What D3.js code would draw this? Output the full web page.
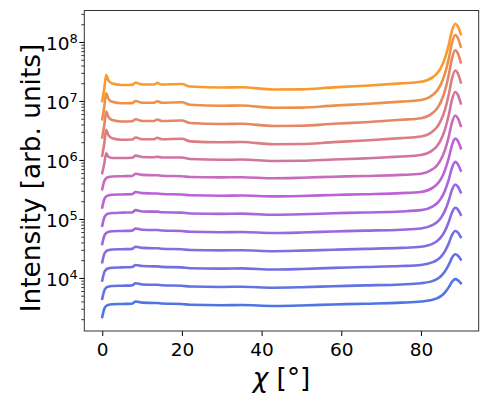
<!DOCTYPE html>
<html>
<head>
<meta charset="utf-8">
<script src="https://cdn.jsdelivr.net/npm/d3@7"></script>
<style>
  body { margin: 0; background: #fff; }
  text { font-family: "DejaVu Sans", sans-serif; fill: #000; }
</style>
</head>
<body>
<div id="chart"></div>
<script>
// chi angle (deg) sample points, shared by every scan
const chi = [0, 0.5, 1, 1.5, 2.5, 5, 7.5, 8.4, 10, 13, 13.8, 15, 20, 22, 30, 35, 43, 50, 58, 66, 75, 80, 83, 84, 85, 86, 87, 87.8, 88.6, 89.3, 90]

// intensity per scan, bottom (blue) to top (orange)
const scan00 = [2180, 2980, 3350, 3480, 3580, 3620, 3660, 3990, 3810, 3760, 3760, 3690, 3620, 3510, 3450, 3480, 3350, 3410, 3550, 3660, 3810, 3990, 4280, 4510, 4920, 5660, 6980, 8610, 9560, 9160, 8170]
const scan01 = [4440, 6070, 6830, 7100, 7290, 7380, 7470, 8130, 7760, 7680, 7680, 7530, 7380, 7150, 7040, 7100, 6830, 6960, 7240, 7470, 7760, 8130, 8910, 9540, 10700, 12800, 16800, 22000, 25200, 23800, 20600]
const scan02 = [9070, 12400, 13900, 14500, 14900, 15100, 15300, 16600, 15900, 15700, 15700, 15400, 15100, 14600, 14400, 14500, 13900, 14200, 14800, 15300, 15900, 16600, 18500, 20000, 22800, 28200, 38800, 53400, 62600, 58600, 49300]
const scan03 = [18500, 25300, 28400, 29500, 30300, 30700, 31100, 33800, 32300, 31900, 31900, 31300, 30700, 29700, 29300, 29500, 28400, 29000, 30100, 31100, 32300, 33800, 38200, 41900, 48800, 62200, 89600, 129000, 155000, 144000, 118000]
const scan04 = [37600, 51400, 57800, 60100, 61800, 62500, 63300, 68900, 65800, 65000, 65000, 63800, 62500, 60600, 59600, 60100, 57800, 58900, 61300, 63300, 65800, 68900, 79100, 87600, 104000, 137000, 207000, 312000, 384000, 352000, 282000]
const scan05 = [76800, 105000, 118000, 123000, 126000, 128000, 129000, 141000, 134000, 133000, 133000, 130000, 128000, 124000, 122000, 123000, 118000, 120000, 125000, 129000, 134000, 141000, 164000, 183000, 221000, 299000, 470000, 739000, 927000, 843000, 660000]
const scan06 = [157000, 214000, 241000, 250000, 257000, 260000, 263000, 287000, 274000, 270000, 270000, 265000, 260000, 252000, 248000, 250000, 241000, 245000, 255000, 263000, 274000, 287000, 339000, 384000, 473000, 660000, 1090000, 1790000, 2300000, 2080000, 1580000]
const scan07 = [319000, 436000, 490000, 510000, 524000, 530000, 536000, 584000, 558000, 551000, 551000, 541000, 530000, 514000, 506000, 510000, 490000, 500000, 520000, 536000, 558000, 584000, 701000, 803000, 1010000, 1450000, 2510000, 4330000, 5690000, 5080000, 3780000]
const scan08 = [601000, 853000, 1.30e6, 1.144e6, 1.079e6, 1.079e6, 1.092e6, 1.185e6, 1.122e6, 1.114e6, 1.135e6, 1.101e6, 1.101e6, 1.038e6, 1.006e6, 1.017e6, 960000, 968000, 1.017e6, 1.066e6, 1.144e6, 1.213e6, 1.48e6, 1.71e6, 2.19e6, 3.24e6, 5.85e6, 1.056e7, 1.418e7, 1.254e7, 9.11e6]
const scan09 = [1.18e6, 1.88e6, 3.25e6, 2.68e6, 2.33e6, 2.20e6, 2.22e6, 2.41e6, 2.24e6, 2.24e6, 2.38e6, 2.24e6, 2.29e6, 2.07e6, 2.00e6, 2.02e6, 1.85e6, 1.86e6, 2.01e6, 2.14e6, 2.35e6, 2.50e6, 3.08e6, 3.59e6, 4.64e6, 7.01e6, 1.30e7, 2.41e7, 3.29e7, 2.89e7, 2.07e7]
const scan10 = [2.41e6, 3.84e6, 6.64e6, 5.46e6, 4.76e6, 4.49e6, 4.53e6, 4.91e6, 4.58e6, 4.58e6, 4.85e6, 4.58e6, 4.67e6, 4.23e6, 4.07e6, 4.12e6, 3.77e6, 3.80e6, 4.10e6, 4.37e6, 4.80e6, 5.11e6, 6.31e6, 7.40e6, 9.65e6, 1.476e7, 2.79e7, 5.28e7, 7.26e7, 6.35e7, 4.50e7]
const scan11 = [4.90e6, 7.81e6, 1.351e7, 1.111e7, 9.69e6, 9.14e6, 9.21e6, 1.000e7, 9.32e6, 9.32e6, 9.88e6, 9.32e6, 9.51e6, 8.62e6, 8.29e6, 8.39e6, 7.67e6, 7.73e6, 8.35e6, 8.89e6, 9.76e6, 1.039e7, 1.274e7, 1.483e7, 1.911e7, 2.868e7, 5.27e7, 9.69e7, 1.314e8, 1.157e8, 8.32e7]
const scan12 = [9.98e6, 1.592e7, 2.752e7, 2.264e7, 1.974e7, 1.862e7, 1.877e7, 2.037e7, 1.899e7, 1.899e7, 2.013e7, 1.899e7, 1.936e7, 1.756e7, 1.689e7, 1.709e7, 1.562e7, 1.575e7, 1.702e7, 1.812e7, 1.989e7, 2.117e7, 2.54e7, 2.91e7, 3.65e7, 5.24e7, 9.02e7, 1.552e8, 2.04e8, 1.82e8, 1.36e8]
const scans = [scan00, scan01, scan02, scan03, scan04, scan05, scan06, scan07, scan08, scan09, scan10, scan11, scan12]

// axes
const xTicks = [0, 20, 40, 60, 80]
const yTicks = [1e4, 1e5, 1e6, 1e7, 1e8]
const xDomain = [-4.5, 94.5]
const yDomain = [1.26e3, 3.42e8]

// basic layout
const width = 487
const height = 403
const margin = {left: 84.3, top: 10.5, right: 8.3, bottom: 72}
const tickFont = 18.5
const labelFont = 26.3

const svg = d3.select("#chart").append("svg")
    .attr("width", width)
    .attr("height", height)

const x = d3.scaleLinear().domain(xDomain).range([margin.left, width - margin.right])
const y = d3.scaleLog().domain(yDomain).range([height - margin.bottom, margin.top])

// colour ramp blue -> orchid -> orange
const color = d3.scaleLinear()
    .domain([0, 6, 12])
    .range(["#4169e1", "#b754d6", "#f7921c"])
    .interpolate(d3.interpolateRgb)

// lines
const line = d3.line()
    .x((d, i) => x(chi[i]))
    .y(d => y(d))
    .curve(d3.curveMonotoneX)

svg.append("g")
    .selectAll("path")
    .data(scans)
    .join("path")
    .attr("d", line)
    .attr("fill", "none")
    .attr("stroke", (d, i) => color(i))
    .attr("stroke-opacity", 0.92)
    .attr("stroke-width", 2.6)
    .attr("stroke-linejoin", "round")
    .attr("stroke-linecap", "square")

// x axis
const xAxis = svg.append("g")
    .attr("transform", `translate(0,${height - margin.bottom})`)
    .call(d3.axisBottom(x).tickValues(xTicks).tickSize(5).tickPadding(7.3).tickFormat(d3.format("d")))
xAxis.select(".domain").remove()
xAxis.selectAll("text").style("font-size", tickFont + "px").attr("font-family", null)
xAxis.selectAll("line").attr("stroke", "#000").attr("stroke-width", 1)

// y axis, minor ticks
const minor = y.ticks().filter(v => Math.abs(Math.log10(v) - Math.round(Math.log10(v))) > 1e-6)
const yMinor = svg.append("g")
    .attr("transform", `translate(${margin.left},0)`)
    .call(d3.axisLeft(y).tickValues(minor).tickSize(3).tickFormat(""))
yMinor.select(".domain").remove()
yMinor.selectAll("line").attr("stroke", "#000").attr("stroke-width", 0.8)

// y axis, major ticks with 10^n labels
const yAxis = svg.append("g")
    .attr("transform", `translate(${margin.left},0)`)
    .call(d3.axisLeft(y).tickValues(yTicks).tickSize(5).tickFormat(""))
yAxis.select(".domain").remove()
yAxis.selectAll("line").attr("stroke", "#000").attr("stroke-width", 1)

yAxis.selectAll(".tick").append("text")
    .attr("x", -6.5)
    .attr("y", 8)
    .attr("text-anchor", "end")
    .style("font-size", tickFont + "px")
    .each(function(d) {
        const t = d3.select(this)
        t.append("tspan").text("10")
        t.append("tspan")
            .attr("dy", -7.5)
            .style("font-size", "13px")
            .text(Math.round(Math.log10(d)))
    })

// frame
svg.append("rect")
    .attr("x", margin.left)
    .attr("y", margin.top)
    .attr("width", width - margin.left - margin.right)
    .attr("height", height - margin.top - margin.bottom)
    .attr("fill", "none")
    .attr("stroke", "#333")
    .attr("stroke-width", 1)

// axis labels
const xl = svg.append("text")
    .attr("x", (margin.left + width - margin.right) / 2)
    .attr("y", 386.5)
    .attr("text-anchor", "middle")
    .style("font-size", labelFont + "px")
xl.append("tspan").style("font-style", "italic").text("χ")
xl.append("tspan").text(" [°]")

svg.append("text")
    .attr("transform", `translate(40,178) rotate(-90)`)
    .attr("text-anchor", "middle")
    .style("font-size", labelFont + "px")
    .text("Intensity [arb. units]")
</script>
</body>
</html>
